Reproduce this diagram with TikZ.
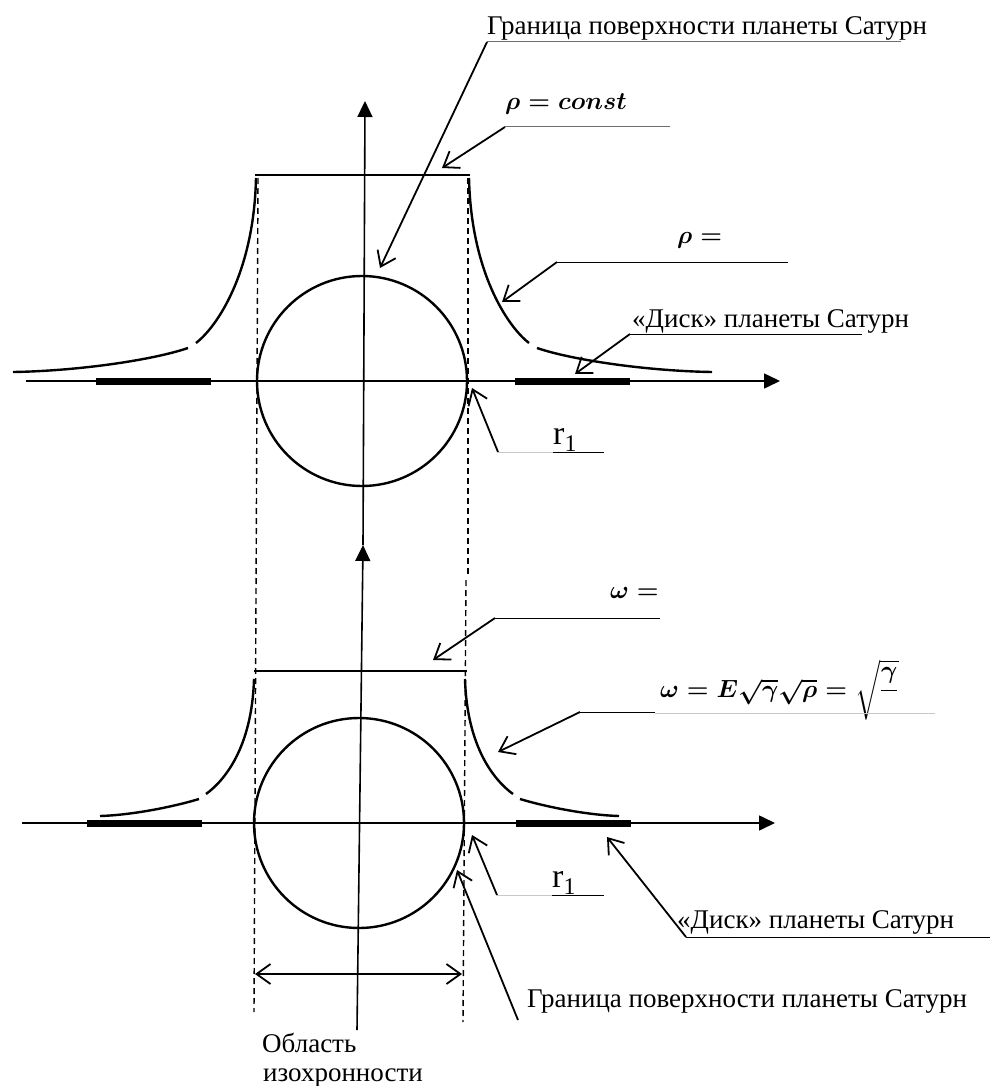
\documentclass[tikz,border=0pt]{standalone}
\usepackage{fontspec}
\setmainfont{Liberation Serif}
\usepackage{amsmath}
\usetikzlibrary{arrows.meta}

\begin{document}
\begin{tikzpicture}[x=1pt,y=-1pt,
    axis/.style={line width=1.6pt,-{Triangle[length=16pt,width=15pt]}},
    crv/.style={line width=2.4pt},
    guide/.style={line width=1.4pt,dash pattern=on 6pt off 4pt},
    lead/.style={line width=1.8pt,-{Straight Barb[length=14pt,width=20pt]}},
    twoway/.style={line width=1.8pt,{Straight Barb[length=14pt,width=20pt]}-{Straight Barb[length=14pt,width=20pt]}},
    uline/.style={line width=1pt},
    bar/.style={line width=7pt},
    lbl/.style={inner sep=0pt,anchor=base west,font=\fontsize{27}{30}\selectfont},
    frm/.style={inner sep=0pt,anchor=base west,font=\fontsize{25}{28}\selectfont\boldmath}]
        % Define colors
        \definecolor{softgray}{RGB}{200,200,200}
        \definecolor{midgray}{RGB}{110,110,110}

        \useasboundingbox (0,0) rectangle (993,1086);

        % Dashed borders of the isochronous region
        \draw[guide] (258,178) -- (254,1012);
        \draw[guide] (468,178) -- (468,575);
        \draw[guide] (466,580) -- (463,1022);

        % Axes
        \draw[axis] (26,381) -- (780,381);
        \draw[axis] (22,823) -- (775,823);
        \draw[axis] (357,1030) -- (363,545);
        \draw[axis] (363,545) -- (365,101);

        % Discs
        \draw[bar] (96,381) -- (211,381);
        \draw[bar] (515,381) -- (630,381);
        \draw[bar] (87,823) -- (202,823);
        \draw[bar] (516,823) -- (631,823);

        % Planet circles and flat tops
        \draw[crv] (362,381) circle (105);
        \draw[crv] (359,823) circle (105);
        \draw[crv] (255,175) -- (470,175);
        \draw[crv] (254,671) -- (467,671);

        % Falling branches, upper graph
        \foreach \sx/\xo in {1/258,-1/467} {
                \begin{scope}[shift={(\xo,381)},xscale=\sx]
                    \draw[crv] (-2,-203) .. controls (-4,-110) and (-40,-55) .. (-62,-38);
                    \draw[crv] (-70,-33) .. controls (-105,-21) and (-180,-10) .. (-245,-9);
                \end{scope}
            }

        % Falling branches, lower graph
        \foreach \sx/\xo in {1/254,-1/465} {
                \begin{scope}[shift={(\xo,823)},xscale=\sx]
                    \draw[crv] (0,-144) .. controls (-2,-75) and (-30,-42) .. (-48,-29);
                    \draw[crv] (-55,-24) .. controls (-78,-17) and (-120,-8) .. (-154,-7);
                \end{scope}
            }

        % Width of the region
        \coordinate (areaL) at (255,974);
        \coordinate (areaR) at (462,974);
        \draw[twoway] (areaL) -- (areaR);

        % Labels of the upper graph
        \node[lbl] (bndTop) at (487,35) {Граница поверхности планеты Сатурн};
        \coordinate (bndTopL) at (487,42);
        \coordinate (bndTopTip) at (380,268);
        \draw[uline,midgray] (bndTopL) -- (901,42);
        \draw[lead] (bndTopL) -- (bndTopTip);

        \node[frm] (rhoConst) at (505,110) {$\rho = const$};
        \coordinate (rhoConstL) at (505,127);
        \coordinate (rhoConstTip) at (442,168);
        \draw[uline,midgray] (rhoConstL) -- (670,127);
        \draw[lead] (rhoConstL) -- (rhoConstTip);

        \node[frm] (rhoEq) at (677,243) {$\rho =$};
        \coordinate (rhoEqL) at (557,262);
        \coordinate (rhoEqTip) at (502,302);
        \draw[uline] (rhoEqL) -- (788,262);
        \draw[lead] (rhoEqL) -- (rhoEqTip);

        \node[lbl] (diskTop) at (632,327) {«Диск» планеты Сатурн};
        \coordinate (diskTopL) at (630,334);
        \coordinate (diskTopTip) at (575,374);
        \draw[uline] (diskTopL) -- (862,334);
        \draw[lead] (diskTopL) -- (diskTopTip);

        \node[lbl,font=\fontsize{34}{38}\selectfont] (rTop) at (553,444) {r\textsubscript{1}};
        \coordinate (rTopL) at (498,452);
        \coordinate (rTopTip) at (472,388);
        \draw[uline,softgray] (rTopL) -- (553,452);
        \draw[uline] (553,452) -- (604,452);
        \draw[lead] (rTopL) -- (rTopTip);

        % Labels of the lower graph
        \node[frm] (omegaEq) at (610,598) {$\omega =$};
        \coordinate (omegaEqL) at (495,618);
        \coordinate (omegaEqTip) at (433,660);
        \draw[uline] (omegaEqL) -- (660,618);
        \draw[lead] (omegaEqL) -- (omegaEqTip);

        \node[frm,font=\fontsize{26}{30}\selectfont\boldmath] (omegaFull) at (660,697) {$\omega = E\sqrt{\gamma}\sqrt{\rho} = \sqrt{\dfrac{\gamma}{\,}}$};
        \coordinate (omegaFullL) at (580,712);
        \coordinate (omegaFullTip) at (498,752);
        \draw[uline] (omegaFullL) -- (655,712);
        \draw[uline,softgray] (655,713) -- (935,713);
        \draw[lead] (omegaFullL) -- (omegaFullTip);

        \node[lbl,font=\fontsize{34}{38}\selectfont] (rBot) at (552,887) {r\textsubscript{1}};
        \coordinate (rBotL) at (497,895);
        \coordinate (rBotTip) at (472,835);
        \draw[uline,softgray] (rBotL) -- (552,895);
        \draw[uline] (552,895) -- (604,895);
        \draw[lead] (rBotL) -- (rBotTip);

        \node[lbl] (diskBot) at (677,928) {«Диск» планеты Сатурн};
        \coordinate (diskBotL) at (686,937);
        \coordinate (diskBotTip) at (607,837);
        \draw[uline] (diskBotL) -- (990,937);
        \draw[lead] (diskBotL) -- (diskBotTip);

        \node[lbl] (bndBot) at (527,1007) {Граница поверхности планеты Сатурн};
        \coordinate (bndBotL) at (518,1020);
        \coordinate (bndBotTip) at (457,870);
        \draw[lead] (bndBotL) -- (bndBotTip);

        \node[lbl] (areaA) at (262,1052) {Область};
        \node[lbl] (areaB) at (263,1081) {изохронности};

    \end{tikzpicture}
\end{document}
